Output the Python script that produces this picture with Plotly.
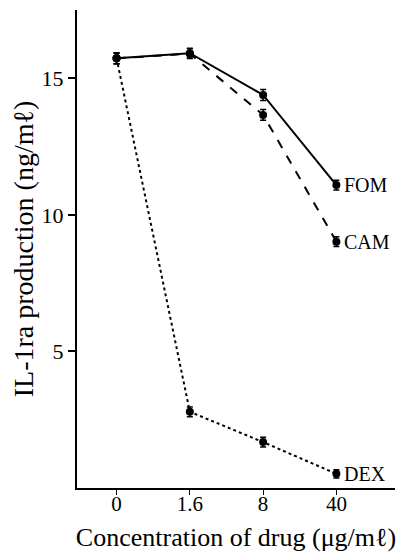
import plotly.graph_objects as go

concentrations = ["0", "1.6", "8", "40"]
fom = [15.73, 15.92, 14.39, 11.09]
cam = [15.73, 15.90, 13.66, 9.02]
dex = [15.73, 2.79, 1.68, 0.52]
fom_err = [0.2, 0.18, 0.2, 0.18]
cam_err = [0.2, 0.18, 0.2, 0.18]
dex_err = [0.2, 0.18, 0.18, 0.15]
series_names = ["FOM", "CAM", "DEX"]

FAMILY = "Liberation Serif, Times New Roman, serif"

fig = go.Figure()
styles = [("solid", fom, fom_err), ("dash", cam, cam_err), ("dot", dex, dex_err)]
last_idx = len(concentrations) - 1
for name, (dash, vals, err) in zip(series_names, styles):
    fig.add_trace(go.Scatter(
        x=concentrations, y=vals, mode="lines+markers", name=name,
        line=dict(color="black", width=2, dash=dash),
        marker=dict(color="black", size=8, symbol="circle"),
        error_y=dict(type="data", array=err, color="black", thickness=1.5, width=3),
        showlegend=False,
    ))
    fig.add_annotation(x=last_idx, y=vals[-1], text=name, showarrow=False,
                       xanchor="left", xshift=6, yanchor="middle",
                       font=dict(family=FAMILY, size=20, color="black"))

font = dict(family=FAMILY, color="black")
# page body has an 8px default margin, so the figure is 8px smaller each way
fig.update_layout(
    width=401, height=544,
    margin=dict(l=69, r=14, t=2, b=64),
    plot_bgcolor="white", paper_bgcolor="white",
    font=dict(family=FAMILY, size=18, color="black"),
    xaxis=dict(type="category", range=[-0.54, 3.8], showline=True, linecolor="black",
               linewidth=2, ticks="outside", ticklen=5, tickwidth=1, tickcolor="black",
               ticklabelstandoff=-9,
               showgrid=False, zeroline=False, automargin=False,
               tickfont=dict(size=21, **font),
               title=dict(text="Concentration of drug (μg/mℓ)", font=dict(size=26, **font), standoff=20)),
    yaxis=dict(range=[0, 17.5], showline=True, linecolor="black", linewidth=2,
               ticks="outside", ticklen=7, tickwidth=1.5, tickcolor="black", automargin=False,
               tickvals=[5, 10, 15], showgrid=False, zeroline=False,
               tickfont=dict(size=22, **font),
               title=dict(text="IL-1ra production (ng/mℓ)", font=dict(size=28, **font), standoff=0)),
)
fig.write_html("out.html")
